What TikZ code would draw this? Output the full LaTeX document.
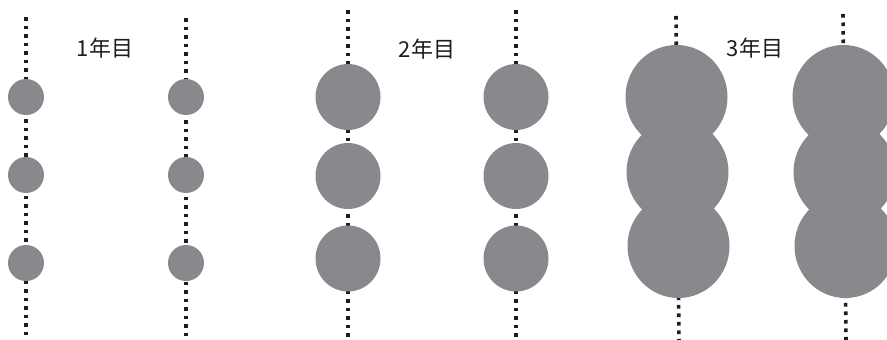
\documentclass[tikz,border=0pt]{standalone}
\usepackage{fontspec}
\newfontfamily\jpfont{Noto Sans CJK JP}
\usetikzlibrary{shapes.geometric}
\definecolor{ballgray}{RGB}{136,137,141}
\definecolor{ink}{RGB}{30,28,28}
\begin{document}
\begin{tikzpicture}[x=1pt,y=-1pt,
  skewer/.style={line width=3.6pt, draw=ink, dash pattern=on 3.6pt off 4.9pt},
  ball/.style={ellipse, fill=ballgray, inner sep=0pt},
  small/.style={ball, minimum width=36pt, minimum height=36pt},
  mid/.style={ball, minimum width=65pt, minimum height=66pt},
  big/.style={ball, minimum width=102pt, minimum height=104pt},
  yearlabel/.style={font=\jpfont\fontsize{22}{26}\selectfont, text=ink, inner sep=0pt}]
\useasboundingbox (0,0) rectangle (887,340);
\clip (0,0) rectangle (887,340);
% skewer ends
\coordinate (a1t) at (26,17);  \coordinate (a1b) at (26,342);
\coordinate (a2t) at (186,18); \coordinate (a2b) at (186,342);
\coordinate (b1t) at (348,10); \coordinate (b1b) at (348,342);
\coordinate (b2t) at (516,10); \coordinate (b2b) at (516,342);
\coordinate (c1t) at (676,16); \coordinate (c1b) at (679,342);
\coordinate (c2t) at (843,14); \coordinate (c2b) at (846,342);
\draw[skewer] (a1t) -- (a1b);
\draw[skewer] (a2t) -- (a2b);
\draw[skewer] (b1t) -- (b1b);
\draw[skewer] (b2t) -- (b2b);
\draw[skewer] (c1t) -- (c1b);
\draw[skewer] (c2t) -- (c2b);
% year 1
\node[small] (a11) at (26,97) {};
\node[small] (a12) at (26,175) {};
\node[small] (a13) at (26,263) {};
\node[small] (a21) at (186,97) {};
\node[small] (a22) at (186,175) {};
\node[small] (a23) at (186,263) {};
% year 2
\node[mid] (b11) at (348,97) {};
\node[mid] (b12) at (348,176) {};
\node[mid] (b13) at (348,258.5) {};
\node[mid] (b21) at (516,97) {};
\node[mid] (b22) at (516,176) {};
\node[mid] (b23) at (516,258.5) {};
% year 3
\node[big] (c11) at (676.5,97) {};
\node[big] (c12) at (677.5,172) {};
\node[big] (c13) at (678.5,246) {};
\node[big] (c21) at (843.5,97) {};
\node[big] (c22) at (844.5,172) {};
\node[big] (c23) at (845.5,246) {};
% labels
\node[yearlabel] (y1) at (105,48) {1年目};
\node[yearlabel] (y2) at (427,49) {2年目};
\node[yearlabel] (y3) at (755,48.5) {3年目};
\end{tikzpicture}
\end{document}
